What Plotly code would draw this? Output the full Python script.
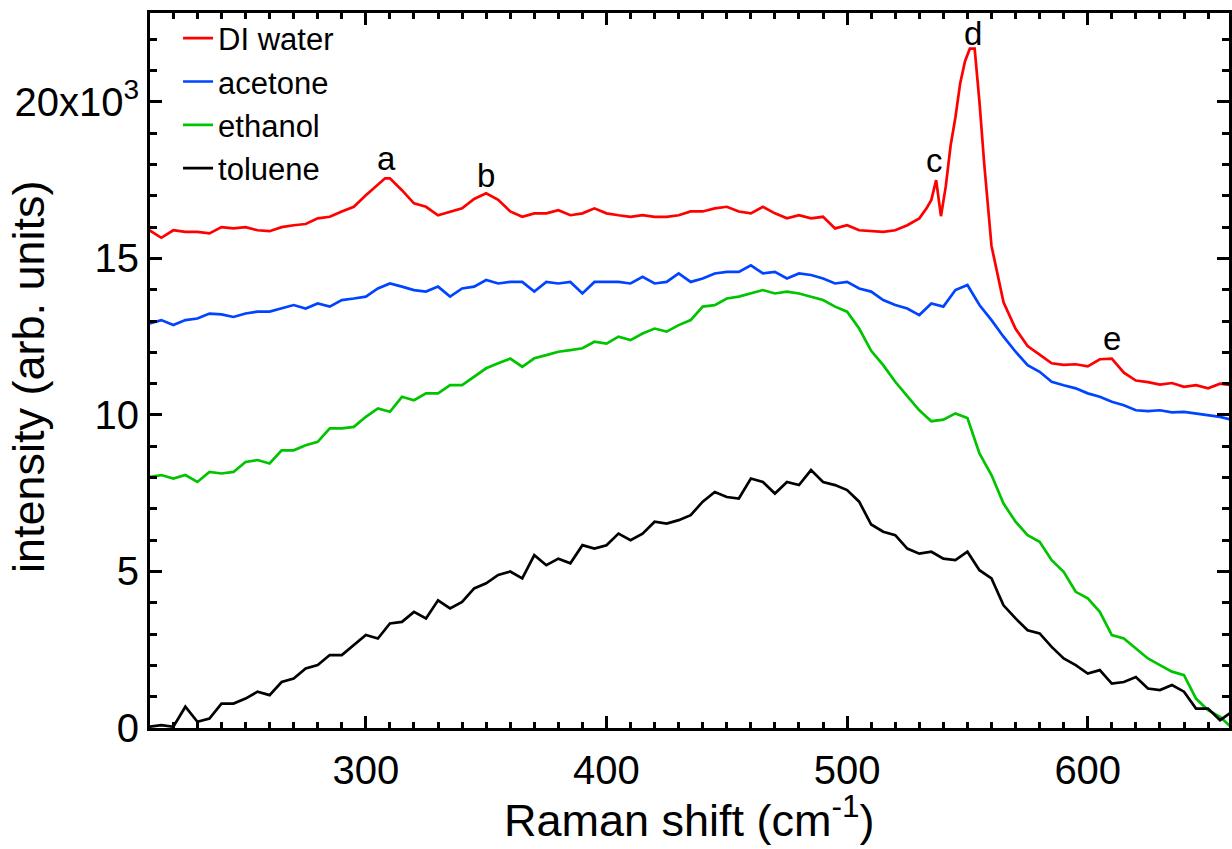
import plotly.graph_objects as go

# ---------------- data (intensity in units of 10^3) ----------------
x_grid = list(range(210, 665, 5))

water_x = [210, 215, 220, 225, 230, 235, 240, 245, 250, 255, 260, 265, 270, 275, 280,
           285, 290, 295, 300, 305, 308, 310, 315, 320, 325, 330, 335, 340, 345, 350,
           355, 360, 365, 370, 375, 380, 385, 390, 395, 400, 405, 410, 415, 420, 425,
           430, 435, 440, 445, 450, 455, 460, 465, 470, 475, 480, 485, 490, 495, 500,
           505, 510, 515, 520, 525, 530, 533, 535, 537, 539, 541, 543, 545, 547, 549,
           551, 553, 555, 557, 560, 565, 570, 575, 580, 585, 590, 595, 600, 605, 610,
           615, 620, 625, 630, 635, 640, 645, 650, 655, 660]
water_y = [15.90, 15.66, 15.90, 15.85, 15.85, 15.80, 16.00, 15.96, 16.00, 15.90, 15.87, 16.00, 16.06, 16.10, 16.28,
           16.33, 16.50, 16.65, 17.02, 17.35, 17.56, 17.56, 17.18, 16.76, 16.65, 16.38, 16.50, 16.60, 16.90, 17.08,
           16.87, 16.50, 16.33, 16.44, 16.44, 16.54, 16.38, 16.44, 16.60, 16.44, 16.38, 16.33, 16.38, 16.33, 16.33,
           16.38, 16.50, 16.50, 16.60, 16.65, 16.50, 16.44, 16.65, 16.44, 16.28, 16.38, 16.28, 16.33, 15.96, 16.06,
           15.90, 15.87, 15.85, 15.90, 16.06, 16.28, 16.60, 16.87, 17.50, 16.35, 17.30, 18.60, 19.50, 20.60, 21.30,
           21.70, 21.70, 20.00, 18.00, 15.40, 13.60, 12.75, 12.20, 11.93, 11.65, 11.60, 11.62, 11.55, 11.78, 11.80,
           11.35, 11.10, 11.05, 10.97, 11.02, 10.90, 10.95, 10.85, 11.00, 10.95]

acetone_y = [12.92, 13.03, 12.87, 13.03, 13.08, 13.24, 13.21, 13.13, 13.24, 13.30,
             13.30, 13.40, 13.51, 13.40, 13.56, 13.46, 13.67, 13.72, 13.78, 14.04,
             14.20, 14.10, 13.99, 13.94, 14.10, 13.78, 14.04, 14.10, 14.31, 14.20,
             14.25, 14.25, 13.94, 14.25, 14.20, 14.25, 13.88, 14.25, 14.25, 14.25,
             14.20, 14.41, 14.20, 14.25, 14.52, 14.25, 14.36, 14.52, 14.57, 14.57,
             14.78, 14.52, 14.57, 14.36, 14.52, 14.47, 14.36, 14.20, 14.25, 14.04,
             13.94, 13.67, 13.51, 13.40, 13.19, 13.56, 13.46, 13.99, 14.15, 13.51,
             13.03, 12.50, 12.02, 11.59, 11.38, 11.06, 10.95, 10.85, 10.69, 10.58,
             10.42, 10.31, 10.15, 10.12, 10.15, 10.08, 10.10, 10.05, 10.00, 9.94,
             9.84]

ethanol_y = [8.02, 8.08, 7.97, 8.08, 7.86, 8.18, 8.13, 8.18, 8.50, 8.56,
             8.45, 8.87, 8.87, 9.03, 9.14, 9.57, 9.57, 9.62, 9.94, 10.21,
             10.10, 10.58, 10.47, 10.69, 10.69, 10.95, 10.95, 11.22, 11.49, 11.65,
             11.80, 11.54, 11.81, 11.91, 12.02, 12.07, 12.13, 12.34, 12.28, 12.50,
             12.39, 12.60, 12.76, 12.66, 12.87, 13.03, 13.46, 13.51, 13.72, 13.78,
             13.88, 13.99, 13.88, 13.94, 13.88, 13.78, 13.67, 13.46, 13.30, 12.76,
             12.05, 11.59, 11.06, 10.60, 10.15, 9.80, 9.85, 10.05, 9.90, 8.77,
             8.08, 7.17, 6.59, 6.16, 5.95, 5.36, 4.99, 4.35, 4.14, 3.71,
             2.97, 2.86, 2.54, 2.22, 2.01, 1.80, 1.69, 0.94, 0.57, 0.36,
             0.00]

toluene_y = [0.04, 0.09, 0.04, 0.68, 0.20, 0.30, 0.78, 0.78, 0.94, 1.16,
             1.05, 1.47, 1.58, 1.90, 2.01, 2.33, 2.33, 2.65, 2.97, 2.86,
             3.34, 3.39, 3.71, 3.50, 4.08, 3.82, 4.03, 4.46, 4.62, 4.89,
             5.00, 4.78, 5.52, 5.20, 5.41, 5.26, 5.84, 5.73, 5.84, 6.21,
             6.00, 6.21, 6.59, 6.53, 6.64, 6.80, 7.23, 7.54, 7.38, 7.33,
             7.97, 7.86, 7.49, 7.86, 7.76, 8.24, 7.86, 7.76, 7.60, 7.23,
             6.50, 6.27, 6.16, 5.73, 5.57, 5.63, 5.41, 5.36, 5.63, 5.04,
             4.78, 3.92, 3.50, 3.12, 3.02, 2.59, 2.22, 2.01, 1.74, 1.85,
             1.42, 1.47, 1.63, 1.26, 1.21, 1.37, 1.16, 0.62, 0.62, 0.25,
             0.52]

peak_labels = ["a", "b", "c", "d", "e"]
peak_x = [308.5, 350.0, 536.3, 552.5, 610.0]
peak_y = [18.2, 17.66, 18.14, 22.19, 12.44]

x_major = [300, 400, 500, 600]
x_mid = [250, 350, 450, 550, 650]
y_major = [0, 5, 10, 15, 20]
y_labels = ["0", "5", "10", "15", "20x10<sup>3</sup>"]

# ---------------- figure ----------------
FONT = "Liberation Sans, Arial, Helvetica, sans-serif"
fig = go.Figure()
series = [
    ("DI water", water_x, water_y, "#FF0000"),
    ("acetone", x_grid, acetone_y, "#0044FF"),
    ("ethanol", x_grid, ethanol_y, "#00C400"),
    ("toluene", x_grid, toluene_y, "#000000"),
]
for name, xs, ys, col in series:
    fig.add_trace(go.Scatter(x=xs, y=ys, mode="lines", name=name,
                             line=dict(color=col, width=2.7)))

for lab, px_, py_ in zip(peak_labels, peak_x, peak_y):
    fig.add_annotation(x=px_, y=py_, text=lab, showarrow=False, xref="x", yref="y",
                       font=dict(size=33, color="black", family=FONT))

# axis titles placed as text so the wide "20x10^3" label does not push them
fig.add_annotation(x=-0.112, y=0.491, xref="paper", yref="paper", text="intensity (arb. units)",
                   textangle=-90, showarrow=False, xanchor="center", yanchor="middle",
                   font=dict(size=45, color="black", family=FONT))
fig.add_annotation(x=0.5, y=-0.124, xref="paper", yref="paper", text="Raman shift (cm<sup>-1</sup>)",
                   showarrow=False, xanchor="center", yanchor="middle",
                   font=dict(size=45, color="black", family=FONT))

XR = [210.3, 658.7]
fig.update_layout(
    width=1232, height=849,
    margin=dict(l=150, r=3, t=13, b=121),
    paper_bgcolor="white", plot_bgcolor="rgba(0,0,0,0)",
    font=dict(family=FONT, color="black"),
    showlegend=True,
    legend=dict(x=0.026, y=1.002, xanchor="left", yanchor="top",
                font=dict(size=31, family=FONT), bgcolor="rgba(0,0,0,0)",
                tracegroupgap=0, itemwidth=30),
    xaxis=dict(range=XR, showline=True, linewidth=3, linecolor="black", automargin=False,
               mirror="ticks", ticks="inside", ticklen=12, tickwidth=3, tickcolor="black",
               tickvals=x_major, tickfont=dict(size=40), ticklabelstandoff=5,
               showgrid=False, zeroline=False,
               minor=dict(ticks="inside", dtick=10, tick0=0, ticklen=6, tickwidth=2.5,
                          tickcolor="black", showgrid=False)),
    xaxis2=dict(range=XR, overlaying="x", anchor="y", side="bottom", automargin=False,
                showline=False, mirror="ticks", ticks="inside", ticklen=9, tickwidth=3,
                tickcolor="black", tickvals=x_mid, showticklabels=False,
                showgrid=False, zeroline=False),
    yaxis=dict(range=[0, 22.84], showline=True, linewidth=3, linecolor="black", automargin=False,
               mirror="ticks", ticks="inside", ticklen=12, tickwidth=3, tickcolor="black",
               tickvals=y_major, ticktext=y_labels, tickfont=dict(size=40),
               showgrid=False, zeroline=False,
               minor=dict(ticks="inside", dtick=1, tick0=0, ticklen=7, tickwidth=2.5,
                          tickcolor="black", showgrid=False)),
)

fig.write_html("out.html", config={"displayModeBar": False},
               post_script="document.body.style.margin='0';")
